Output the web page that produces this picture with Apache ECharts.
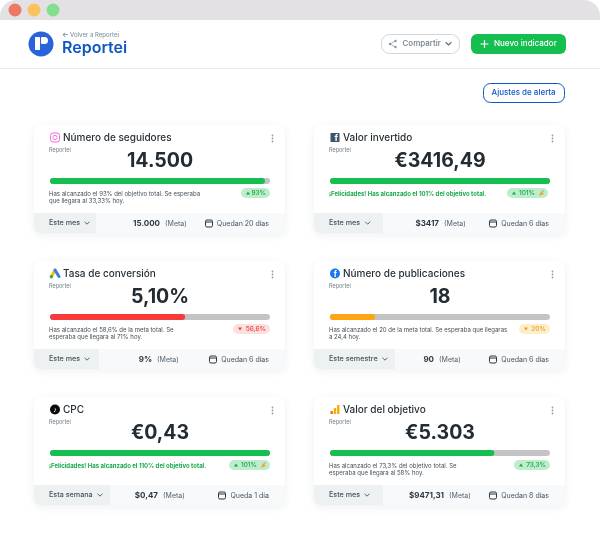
<!DOCTYPE html>
<html lang="es">
<head>
    <meta charset="UTF-8">
    <title>Reportei</title>
    <script src="https://cdn.jsdelivr.net/npm/echarts@6/dist/echarts.min.js"></script>
    <style>
        html, body { margin: 0; padding: 0; background: #fff; }
        #main { width: 600px; height: 533px; filter: blur(0.3px); }
    </style>
</head>
<body>
<div id="main"></div>
<script>
    // datos de las tarjetas
    var cardTitles = ['Número de seguidores', 'Valor invertido', 'Tasa de conversión', 'Número de publicaciones', 'CPC', 'Valor del objetivo'];
    var cardValues = ['14.500', '€3416,49', '5,10%', '18', '€0,43', '€5.303'];
    var barValues = [97.7, 100, 61.4, 20.5, 100, 74.7];
    var barColors = ['#15bf4f', '#15bf4f', '#f83a3a', '#ffa412', '#15bf4f', '#15bf4f'];
    var noteLines = [
        ['Has alcanzado el 93% del objetivo total. Se esperaba', 'que llegara al 33,33% hoy.'],
        ['¡Felicidades! Has alcanzado el 101% del objetivo total.'],
        ['Has alcanzado el 58,6% de la meta total. Se', 'esperaba que llegara al 71% hoy.'],
        ['Has alcanzado el 20 de la meta total. Se esperaba que llegaras', 'a 24,4 hoy.'],
        ['¡Felicidades! Has alcanzado el 110% del objetivo total.'],
        ['Has alcanzado el 73,3% del objetivo total. Se', 'esperaba que llegara al 58% hoy.']
    ];
    var badgeLabels = ['93%', '101%', '56,6%', '20%', '101%', '73,3%'];
    var badgeKinds = ['up', 'party', 'down', 'warn', 'party', 'up'];
    var periods = ['Este mes', 'Este mes', 'Este mes', 'Este semestre', 'Esta semana', 'Este mes'];
    var goalLabels = ['15.000', '$3417', '9%', '90', '$0,47', '$9471,31'];
    var timeLeft = ['Quedan 20 días', 'Quedan 6 días', 'Quedan 6 días', 'Quedan 6 días', 'Queda 1 día', 'Quedan 8 días'];

    // posiciones medidas en la imagen
    var cardLeft = [34, 314, 34, 314, 34, 314];
    var cardTop = [125, 125, 261, 261, 397, 397];
    var dropWidth = [62, 69, 65, 81, 76, 69];
    var chevronX = [87, 367.7, 87, 385, 100, 367];
    var metaX = [165, 444, 157, 439, 163, 449];
    var calX = [205, 489, 209, 489, 218, 489];
    var badgeLeft = [241, 507, 233, 519, 229, 514];
    var badgeRight = [270, 548, 270, 550, 270, 550];

    var badgeStyle = {
        up: {bg: '#bdedcb', fg: '#17a74a'},
        party: {bg: '#bdedcb', fg: '#17a74a'},
        down: {bg: '#fbe0e0', fg: '#f23b3b'},
        warn: {bg: '#fdeecb', fg: '#f39c12'}
    };

    var FONT = 'Inter, sans-serif';
    var g = [];

    function txt(text, x, y, font, fill, align) {
        g.push({
            type: 'text', z: 5,
            style: {text: text, x: x, y: y, font: font + ' ' + FONT, fill: fill, textAlign: align || 'left', textVerticalAlign: 'middle'}
        });
    }
    function rect(x, y, w, h, r, fill, stroke, extra) {
        var style = {fill: fill || 'transparent', stroke: stroke || null, lineWidth: stroke ? 1 : 0};
        for (var k in extra) style[k] = extra[k];
        g.push({type: 'rect', z: 1, shape: {x: x, y: y, width: w, height: h, r: r}, style: style});
    }
    function line(points, stroke, width) {
        g.push({type: 'polyline', z: 4, shape: {points: points}, style: {stroke: stroke, lineWidth: width, fill: null, lineCap: 'round', lineJoin: 'round'}});
    }
    function poly(points, fill) {
        g.push({type: 'polygon', z: 4, shape: {points: points}, style: {fill: fill}});
    }
    function circle(cx, cy, r, fill, stroke, width) {
        g.push({type: 'circle', z: 4, shape: {cx: cx, cy: cy, r: r}, style: {fill: fill || 'transparent', stroke: stroke || null, lineWidth: width || 0}});
    }

    // barra de ventana
    rect(0, 0, 600, 20, [16, 16, 0, 0], '#e3e1e4');
    circle(15, 10, 6.5, '#ee7866');
    circle(34, 10, 6.5, '#fcc25d');
    circle(53, 10, 6.5, '#85dd90');

    // cabecera
    circle(41, 44, 12.5, '#2a62dc');
    rect(35, 37, 5, 13, 0.5, '#fff');
    g[g.length - 1].z = 5;
    rect(41, 37, 7, 7, [1, 3.5, 3.5, 1], '#fff');
    g[g.length - 1].z = 5;
    txt('←', 62, 35, '500 7px', '#6d7f8c');
    txt('Volver a Reportei', 70, 35, '500 6px', '#8496a3');
    txt('Reportei', 62, 48.5, '600 16px', '#0e57c4');
    rect(0, 68, 600, 1, 0, '#e8ebed');

    // botones
    rect(381.5, 34.5, 78, 19, 8, '#fff', '#cdd7dd');
    circle(390, 44, 1.2, '#8496a3');
    circle(395.5, 41, 1.2, '#8496a3');
    circle(395.5, 47, 1.2, '#8496a3');
    line([[395.5, 41], [390, 44], [395.5, 47]], '#8496a3', 0.7);
    txt('Compartir', 402.5, 44, '500 8px', '#6d7f8c');
    line([[446, 42.5], [448.5, 45], [451, 42.5]], '#5b6c78', 1.1);
    rect(471, 34, 95, 20, 6, '#15bf4f');
    line([[481, 44], [488, 44]], '#fff', 1.2);
    line([[484.5, 40.5], [484.5, 47.5]], '#fff', 1.2);
    txt('Nuevo indicador', 494, 44, '500 8px', '#fff');
    rect(483.5, 83.5, 81, 19, 7, '#fff', '#0e57c4');
    txt('Ajustes de alerta', 491.5, 93, '500 8px', '#0e57c4');

    // iconos de cada tarjeta
    function drawIcon(i, x, y) {
        if (i === 0) {
            rect(x - 4.5, y - 4.5, 9, 9, 2.5, '#fff', '#f26be0');
            g[g.length - 1].z = 4;
            circle(x, y, 2.2, null, '#f26be0', 0.9);
        } else if (i === 1) {
            rect(x - 4.5, y - 4.5, 9, 9, 0.5, '#3f5568');
            g[g.length - 1].z = 4;
            txt('f', x + 1.4, y + 1, '700 9px', '#fff', 'center');
        } else if (i === 2) {
            line([[x - 3.5, y + 3], [x, y - 3.5]], '#fbbc04', 3);
            line([[x + 4, y + 3], [x, y - 3.5]], '#2f7ff0', 3);
            circle(x - 3.7, y + 3.2, 1.7, '#34a853');
        } else if (i === 3) {
            circle(x, y, 5, '#1877f2');
            txt('f', x + 0.4, y + 1, '700 8px', '#fff', 'center');
        } else if (i === 4) {
            circle(x, y, 5, '#0b0b0b');
            txt('♪', x, y, '700 7px', '#fff', 'center');
        } else {
            rect(x - 4.5, y + 1.5, 2.4, 3, 0.5, '#e8710a');
            g[g.length - 1].z = 4;
            rect(x - 1.2, y - 1.5, 2.4, 6, 0.5, '#f9ab00');
            g[g.length - 1].z = 4;
            rect(x + 2.1, y - 4.5, 2.4, 9, 0.5, '#f9ab00');
            g[g.length - 1].z = 4;
        }
    }

    var grids = [], xAxes = [], yAxes = [], series = [];

    cardTitles.forEach(function (title, i) {
        var x = cardLeft[i], y = cardTop[i];

        // fondo
        rect(x, y, 251, 108, 6, '#fff', null, {shadowBlur: 9, shadowColor: 'rgba(40,60,90,0.08)', shadowOffsetY: 2});
        rect(x, y + 88, 251, 20, [0, 0, 6, 6], '#f7f9fa');
        rect(x, y + 88, dropWidth[i], 20, [0, 0, 0, 6], '#eef1f2');

        drawIcon(i, x + 21, y + 12.5);
        txt(title, x + 29, y + 13, '500 10px', '#262f36');
        txt('Reportei', x + 15, y + 25, '400 5.5px', '#71808b');
        txt(cardValues[i], x + 126, y + 36, '700 19.5px', '#232c33', 'center');

        circle(x + 238.5, y + 10.5, 0.9, '#8fa0ac');
        circle(x + 238.5, y + 13.5, 0.9, '#8fa0ac');
        circle(x + 238.5, y + 16.5, 0.9, '#8fa0ac');

        // nota
        var celebrates = badgeKinds[i] === 'party';
        noteLines[i].forEach(function (text, n) {
            txt(text, x + 15, y + 69 + n * 7.3, (celebrates ? '700' : '400') + ' 6px', celebrates ? '#17a74a' : '#444f57');
        });

        // insignia
        var b = badgeStyle[badgeKinds[i]];
        var bl = badgeLeft[i], br = badgeRight[i], by = y + 63;
        rect(bl, by, br - bl, 10, 5, b.bg);
        var textEnd = celebrates ? br - 13 : br - 4;
        txt(badgeLabels[i], textEnd, by + 5, '500 6.5px', b.fg, 'right');
        var ax = bl + 7;
        if (badgeKinds[i] === 'up' || badgeKinds[i] === 'party') {
            poly([[ax - 2, by + 6.5], [ax + 2, by + 6.5], [ax, by + 3.5]], b.fg);
        } else {
            poly([[ax - 2, by + 3.5], [ax + 2, by + 3.5], [ax, by + 6.5]], b.fg);
        }
        if (celebrates) {
            poly([[br - 9, by + 8], [br - 7, by + 3], [br - 4, by + 6]], '#f0a63c');
            circle(br - 5, by + 3, 0.7, '#d7765c');
        }

        // pie
        txt(periods[i], x + 15, y + 98, '500 7.2px', '#47545e');
        var cx = chevronX[i];
        line([[cx - 2.2, y + 97], [cx, y + 99.2], [cx + 2.2, y + 97]], '#47545e', 0.9);
        txt(goalLabels[i], metaX[i] - 5, y + 98.5, '700 8px', '#2d373e', 'right');
        txt('(Meta)', metaX[i], y + 98.5, '400 7px', '#55636d');
        rect(calX[i] + 0.5, y + 95, 7, 7, 1.5, 'transparent', '#2d373e');
        g[g.length - 1].z = 4;
        line([[calX[i] + 0.5, y + 97], [calX[i] + 7.5, y + 97]], '#2d373e', 1);
        txt(timeLeft[i], x + 235, y + 98.5, '400 7px', '#47545e', 'right');

        // barra de progreso
        grids.push({left: 50 + (x - 34), top: y + 53, width: 220, height: 6, containLabel: false});
        xAxes.push({gridIndex: i, type: 'value', min: 0, max: 100, show: false});
        yAxes.push({gridIndex: i, type: 'category', data: [title], show: false});
        series.push({
            type: 'bar', xAxisIndex: i, yAxisIndex: i, barWidth: 6, silent: true,
            data: [barValues[i]],
            itemStyle: {color: barColors[i], borderRadius: 3},
            showBackground: true,
            backgroundStyle: {color: '#c4c4c4', borderRadius: 3}
        });
    });

    var myChart = echarts.init(document.getElementById('main'));
    myChart.setOption({
        animation: false,
        backgroundColor: '#fff',
        grid: grids,
        xAxis: xAxes,
        yAxis: yAxes,
        series: series,
        graphic: {elements: g}
    });
</script>
</body>
</html>
